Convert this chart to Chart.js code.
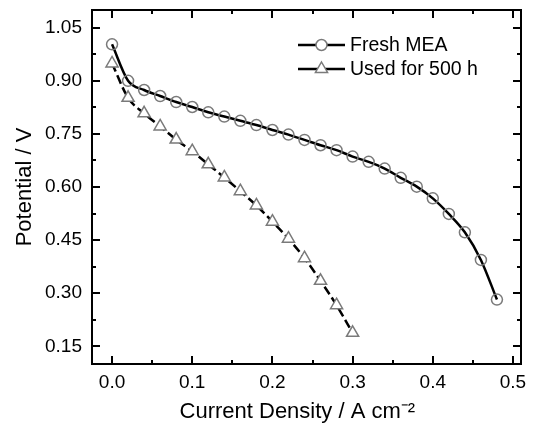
<!DOCTYPE html>
<html>
<head>
<meta charset="utf-8">
<script src="https://cdn.jsdelivr.net/npm/chart.js@4"></script>
<style>
  html, body { margin: 0; padding: 0; background: #fff; }
  #wrap { width: 533px; height: 427px; position: relative; }
</style>
</head>
<body>
<div id="wrap"><canvas id="chart"></canvas></div>
<script>
// Polarization curves: fresh MEA vs MEA used for 500 h
const currentFresh = [0.00, 0.02, 0.04, 0.06, 0.08, 0.10, 0.12, 0.14, 0.16, 0.18, 0.20, 0.22, 0.24,
                      0.26, 0.28, 0.30, 0.32, 0.34, 0.36, 0.38, 0.40, 0.42, 0.44, 0.46, 0.48];
const potentialFresh = [1.003, 0.900, 0.874, 0.857, 0.840, 0.826, 0.811, 0.799, 0.787, 0.775, 0.761, 0.748, 0.733,
                        0.718, 0.704, 0.686, 0.671, 0.652, 0.626, 0.601, 0.568, 0.524, 0.472, 0.394, 0.282];
const currentUsed = [0.00, 0.02, 0.04, 0.06, 0.08, 0.10, 0.12, 0.14, 0.16, 0.18, 0.20, 0.22, 0.24, 0.26, 0.28, 0.30];
const potentialUsed = [0.949, 0.852, 0.808, 0.771, 0.734, 0.701, 0.664, 0.627, 0.588, 0.548, 0.502, 0.454, 0.399,
                       0.335, 0.266, 0.188];

const seriesNames = ['Fresh MEA', 'Used for 500 h'];
const xTickValues = [0, 0.1, 0.2, 0.3, 0.4, 0.5];
const xTickLabels = ['0.0', '0.1', '0.2', '0.3', '0.4', '0.5'];
const yTickValues = [0.15, 0.30, 0.45, 0.60, 0.75, 0.90, 1.05];
const yTickLabels = ['0.15', '0.30', '0.45', '0.60', '0.75', '0.90', '1.05'];

const FONT = '"Liberation Sans", Arial, sans-serif';

// box frame with inward major + minor ticks on all four sides
const frameTicks = {
    id: 'frameTicks',
    afterDraw(chart) {
        const ctx = chart.ctx;
        const a = chart.chartArea;
        const xs = chart.scales.x, ys = chart.scales.y;
        ctx.save();
        ctx.strokeStyle = '#000';
        ctx.lineWidth = 2;
        ctx.strokeRect(a.left, a.top, a.right - a.left, a.bottom - a.top);

        function minors(vals, lo, hi) {
            const step = vals[1] - vals[0];
            const out = [];
            for (let i = -1; i < vals.length; i++) {
                const v = (i < 0 ? vals[0] - step : vals[i]) + step / 2;
                if (v > lo && v < hi) out.push(v);
            }
            return out;
        }
        ctx.beginPath();
        function xTick(v, len) {
            const px = Math.round(xs.getPixelForValue(v));
            ctx.moveTo(px, a.bottom); ctx.lineTo(px, a.bottom - len);
            ctx.moveTo(px, a.top); ctx.lineTo(px, a.top + len);
        }
        function yTick(v, len) {
            const py = Math.round(ys.getPixelForValue(v));
            ctx.moveTo(a.left, py); ctx.lineTo(a.left + len, py);
            ctx.moveTo(a.right, py); ctx.lineTo(a.right - len, py);
        }
        xTickValues.forEach(v => xTick(v, 8));
        minors(xTickValues, xs.min, xs.max).forEach(v => xTick(v, 4));
        yTickValues.forEach(v => yTick(v, 8));
        minors(yTickValues, ys.min, ys.max).forEach(v => yTick(v, 4));
        ctx.stroke();
        ctx.restore();
    }
};

// legend: line - marker - line, then label
const sampleLegend = {
    id: 'sampleLegend',
    afterDraw(chart) {
        const ctx = chart.ctx;
        const a = chart.chartArea;
        const x0 = a.right - 223, x1 = a.right - 176;
        const rows = [a.top + 35, a.top + 59];
        ctx.save();
        chart.data.datasets.forEach((ds, i) => {
            const y = rows[i];
            ctx.strokeStyle = '#000';
            ctx.lineWidth = 2.5;
            ctx.setLineDash([]);
            ctx.beginPath();
            ctx.moveTo(x0, y); ctx.lineTo(x1, y);
            ctx.stroke();
            const cx = (x0 + x1) / 2;
            ctx.fillStyle = '#fff';
            ctx.strokeStyle = ds.pointBorderColor;
            ctx.lineWidth = 1.5;
            ctx.beginPath();
            if (ds.pointStyle === 'triangle') {
                const r = ds.pointRadius;
                ctx.moveTo(cx, y - r);
                ctx.lineTo(cx + r * 0.866, y + r * 0.5);
                ctx.lineTo(cx - r * 0.866, y + r * 0.5);
                ctx.closePath();
            } else {
                ctx.arc(cx, y, ds.pointRadius, 0, Math.PI * 2);
            }
            ctx.fill();
            ctx.stroke();
            ctx.fillStyle = '#000';
            ctx.font = '19.5px ' + FONT;
            ctx.textBaseline = 'middle';
            ctx.textAlign = 'left';
            ctx.fillText(ds.label, x1 + 5, y + 1);
        });
        ctx.restore();
    }
};

new Chart(document.getElementById('chart'), {
    type: 'line',
    data: {
        datasets: [{
            label: seriesNames[0],
            data: currentFresh.map((x, i) => ({ x: x, y: potentialFresh[i] })),
            borderColor: '#000',
            borderWidth: 2.5,
            cubicInterpolationMode: 'monotone',
            pointStyle: 'circle',
            pointRadius: 5.5,
            pointBorderColor: '#7a7a7a',
            pointBackgroundColor: 'rgba(255,255,255,0)',
            pointBorderWidth: 1.5
        }, {
            label: seriesNames[1],
            data: currentUsed.map((x, i) => ({ x: x, y: potentialUsed[i] })),
            borderColor: '#000',
            borderWidth: 2.5,
            borderDash: [9, 4],
            cubicInterpolationMode: 'monotone',
            pointStyle: 'triangle',
            pointRadius: 7,
            pointBorderColor: '#7a7a7a',
            pointBackgroundColor: '#fff',
            pointBorderWidth: 1.5
        }]
    },
    options: {
        responsive: true,
        maintainAspectRatio: false,
        animation: false,
        layout: { padding: { top: 10, right: 12, left: 0, bottom: 0 } },
        plugins: {
            legend: { display: false },
            tooltip: { enabled: true }
        },
        scales: {
            x: {
                type: 'linear',
                min: -0.025,
                max: 0.51,
                afterBuildTicks: s => { s.ticks = xTickValues.map(v => ({ value: v })); },
                afterFit: s => { s.height = 63; s.paddingLeft = 0; s.paddingRight = 0; },
                grid: { display: false, drawTicks: false },
                border: { display: false },
                ticks: {
                    color: '#000',
                    font: { family: FONT, size: 19 },
                    padding: 7,
                    maxRotation: 0,
                    callback: (v, i) => xTickLabels[i]
                },
                title: {
                    display: true,
                    // trailing spaces nudge the centred title left like the original
                    text: 'Current Density / A cm\u207B\u00B2   ',
                    color: '#000',
                    font: { family: FONT, size: 22 },
                    padding: { top: 0, bottom: 2 }
                }
            },
            y: {
                min: 0.10,
                max: 1.10,
                afterBuildTicks: s => { s.ticks = yTickValues.map(v => ({ value: v })); },
                afterFit: s => { s.width = 92; s.paddingTop = 0; s.paddingBottom = 0; },
                grid: { display: false, drawTicks: false },
                border: { display: false },
                ticks: {
                    color: '#000',
                    font: { family: FONT, size: 19 },
                    padding: 10,
                    callback: (v, i) => yTickLabels[i]
                },
                title: {
                    display: true,
                    text: 'Potential / V',
                    color: '#000',
                    font: { family: FONT, size: 22 },
                    padding: { top: 12, bottom: 0 }
                }
            }
        }
    },
    plugins: [frameTicks, sampleLegend]
});
</script>
</body>
</html>
